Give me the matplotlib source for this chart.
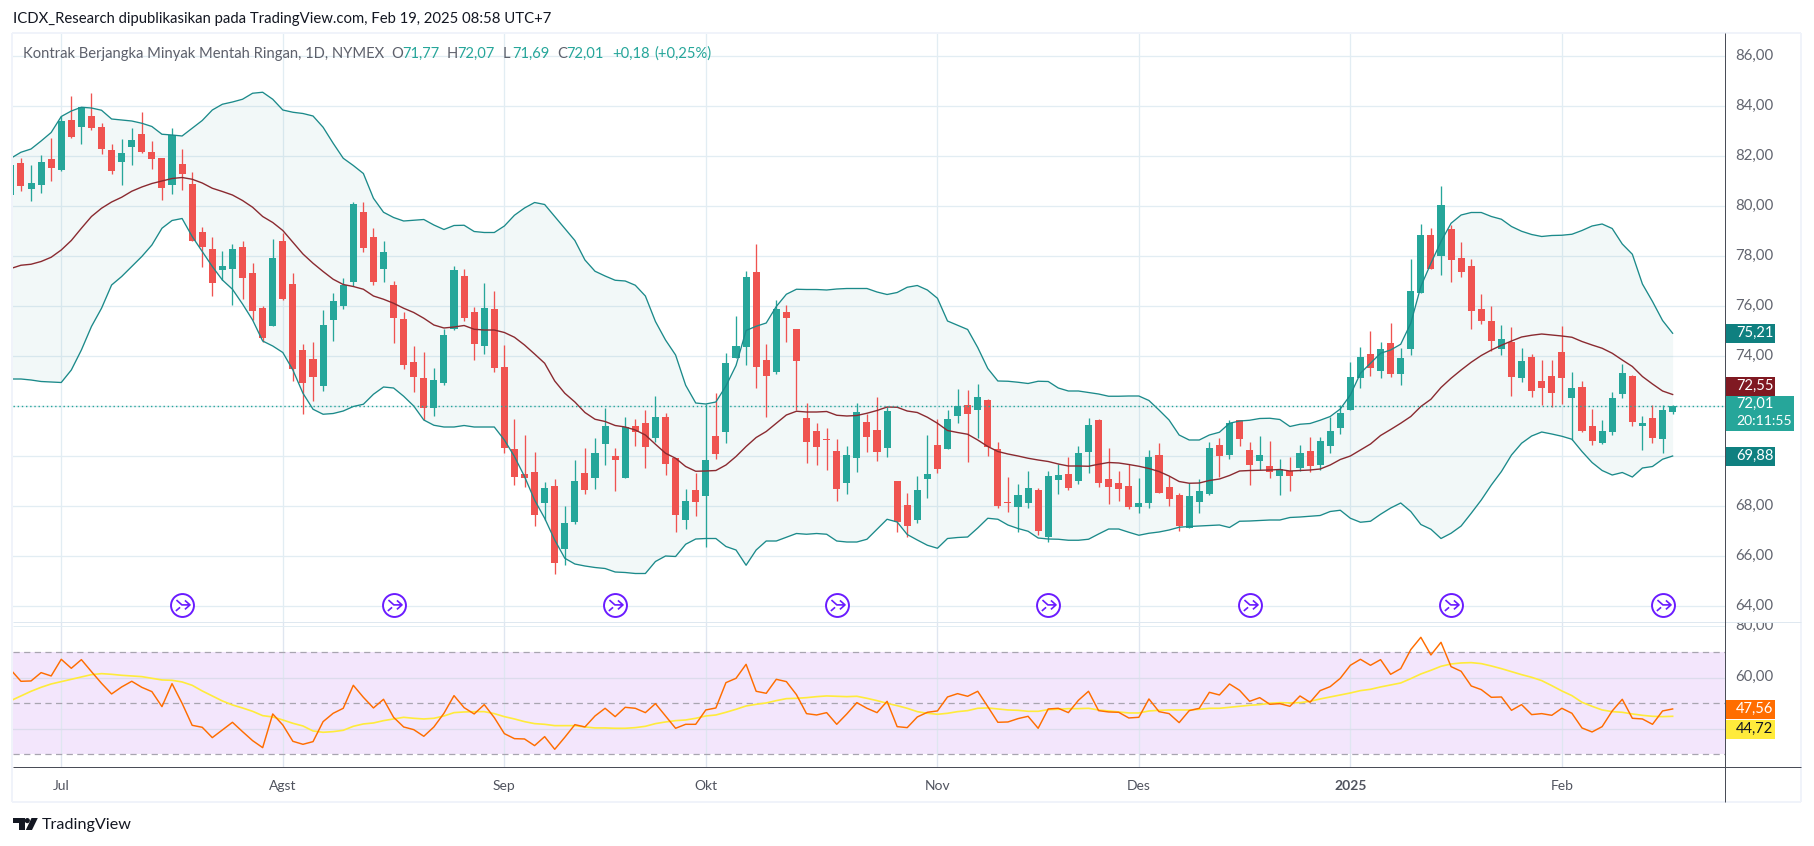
import matplotlib
matplotlib.use("Agg")
import matplotlib.pyplot as plt
from matplotlib.patches import Rectangle, Circle, Polygon
from matplotlib.path import Path
from matplotlib.ticker import FuncFormatter
from matplotlib.transforms import Bbox, ScaledTranslation

plt.rcParams['font.family'] = ['Lato', 'DejaVu Sans']

# daily candles
opens = [80.45,81.73,80.69,80.85,81.89,81.45,83.45,83.17,83.61,83.17,82.25,81.77,82.37,82.89,82.17,81.93,80.85,81.69,80.89,78.97,
         78.29,77.45,77.49,78.37,77.33,75.93,75.21,78.61,76.89,74.25,73.89,72.81,75.45,76.01,76.97,79.77,78.77,77.49,76.85,75.49,
         73.77,73.13,71.93,72.93,75.09,77.21,75.77,74.41,75.89,73.57,70.29,69.29,69.37,68.13,68.81,66.29,67.37,69.33,69.13,70.49,
         70.01,69.13,71.21,71.33,70.73,71.57,69.93,67.45,68.65,68.41,70.81,70.97,73.93,74.37,77.37,73.85,73.37,75.77,75.09,71.53,
         71.01,70.69,70.21,68.93,69.93,71.37,71.05,70.33,69.01,68.05,67.45,69.09,70.45,70.29,71.61,72.05,71.85,72.25,70.29,68.17,
         67.97,68.13,68.65,66.77,69.05,69.29,69.01,70.17,71.45,69.09,68.93,68.81,67.97,68.13,70.05,68.77,68.45,67.13,68.17,68.49,
         70.45,70.05,71.45,70.25,69.81,69.61,69.21,69.41,69.53,70.21,69.65,70.41,71.13,71.85,73.13,74.09,73.41,74.53,73.29,74.29,
         76.53,78.85,78.01,79.09,77.93,77.61,75.89,75.41,74.29,74.57,73.13,73.97,73.01,73.21,74.17,72.33,72.77,71.21,70.53,70.97,
         72.49,73.21,71.21,71.53,70.69,71.77]
highs = [81.65,81.92,81.65,82.05,82.73,83.63,84.41,83.96,84.53,83.33,82.49,82.69,83.13,83.77,82.61,81.93,83.13,82.29,81.37,79.17,
         78.77,78.21,78.49,78.61,77.73,76.01,78.69,78.92,77.33,74.49,74.57,75.85,76.53,77.13,80.17,80.17,79.13,78.61,77.01,75.77,
         74.41,74.17,73.53,75.09,77.61,77.49,75.97,76.93,76.61,74.45,71.49,70.85,70.17,68.97,69.09,68.01,69.85,70.33,70.73,71.93,
         70.33,71.57,71.49,71.85,72.41,71.73,69.93,68.69,69.33,72.09,72.53,74.13,75.61,77.41,78.49,74.49,76.25,76.05,75.09,72.13,
         71.33,71.13,70.69,70.41,72.13,71.69,72.37,71.97,69.01,68.53,69.21,70.85,71.49,71.85,72.69,72.65,72.89,72.29,70.57,69.17,
         68.89,69.41,68.73,69.41,69.69,69.97,70.41,71.53,71.49,70.33,69.41,69.69,69.13,70.25,70.53,69.21,68.53,68.92,69.09,70.57,
         70.73,71.45,71.45,70.57,70.81,70.61,69.89,69.97,70.45,70.77,70.77,71.57,72.05,73.77,74.37,75.01,74.57,75.33,74.33,77.89,
         79.29,79.13,80.81,79.25,78.57,77.89,76.49,76.01,75.25,75.17,74.33,74.09,73.85,73.85,75.21,73.37,73.01,71.89,71.45,72.57,
         73.69,73.25,71.61,72.05,72.05,72.07]
lows = [80.45,80.59,80.21,80.53,81.01,81.41,82.73,82.49,83.05,82.09,81.29,80.85,81.65,82.13,81.49,80.25,80.49,80.65,78.61,77.57,
        76.41,77.05,76.05,76.30,75.45,74.57,75.21,76.25,73.01,71.69,72.21,72.61,74.61,75.89,76.79,78.17,76.85,76.97,74.53,73.49,
        72.57,71.45,71.61,72.85,75.05,75.41,73.85,74.09,73.37,70.13,68.85,68.77,67.21,67.45,65.29,65.65,67.29,68.49,68.69,69.65,
        68.61,69.13,70.41,69.53,70.57,69.25,66.97,67.09,67.61,66.37,69.89,70.53,73.93,73.65,72.73,71.57,73.29,74.57,71.85,69.73,
        69.65,69.45,68.21,68.49,69.37,70.17,69.81,69.97,66.97,66.77,67.33,68.33,69.33,70.29,71.33,69.77,70.73,70.01,67.93,67.77,
        66.97,67.93,66.85,66.57,68.49,68.65,68.89,69.33,68.77,68.09,68.21,67.89,67.73,67.93,68.53,68.01,67.01,67.13,67.73,68.45,
        69.17,69.89,70.41,68.85,69.45,69.13,68.45,68.61,69.41,69.37,69.45,70.13,70.89,71.85,72.73,73.21,73.13,73.17,72.85,74.05,
        76.53,77.49,77.25,76.97,77.17,75.09,75.29,74.21,74.05,72.41,72.97,72.37,72.05,71.97,72.09,70.65,70.97,70.45,70.49,70.85,
        72.33,71.21,70.25,70.53,70.13,71.69]
closes = [81.65,80.83,80.93,81.77,81.53,83.41,82.77,83.96,83.13,82.29,81.41,82.13,82.65,82.17,81.89,80.73,82.85,81.29,78.61,78.37,
          76.93,77.61,78.29,77.13,75.81,74.73,77.93,76.29,73.49,72.93,73.17,75.25,76.21,76.85,80.09,78.33,76.97,78.17,75.55,73.65,
          73.17,71.93,73.05,74.85,77.45,75.53,74.49,75.93,73.53,70.33,69.17,69.13,67.65,68.73,65.73,67.33,69.01,68.65,70.13,71.21,
          69.85,71.17,70.97,70.37,71.57,69.69,67.65,68.21,68.17,69.85,70.09,73.73,74.41,77.17,73.57,73.21,75.89,75.53,73.81,70.57,
          70.37,70.65,68.69,70.05,71.77,70.77,70.17,71.81,67.37,67.21,68.65,69.29,69.49,71.49,72.01,71.69,72.37,70.37,68.01,68.13,
          68.45,68.73,67.01,69.21,69.25,68.73,70.13,71.25,68.93,68.77,68.69,67.97,68.13,69.97,68.53,68.29,67.21,68.41,68.61,70.33,
          70.01,71.33,70.69,69.65,70.05,69.37,69.49,69.21,70.13,69.61,70.61,71.01,71.73,73.17,73.97,73.53,74.29,73.29,73.93,76.61,
          78.85,77.49,80.05,77.85,77.37,75.81,75.41,74.61,74.69,73.17,73.81,72.61,72.73,72.53,73.13,72.73,71.01,70.61,71.01,72.33,
          73.33,71.37,71.33,70.73,71.85,72.01]

# bollinger bands
bb_upper = [81.92,82.16,82.29,82.61,82.95,83.59,83.81,83.96,83.93,83.84,83.49,83.45,83.41,83.32,83.19,82.88,82.85,82.81,83.12,83.43,
            83.85,84.08,84.17,84.28,84.52,84.56,84.28,83.85,83.76,83.71,83.61,83.16,82.52,81.92,81.63,81.31,80.32,79.76,79.55,79.41,
            79.44,79.47,79.25,79.07,79.23,79.24,78.99,78.95,78.95,79.21,79.64,79.93,80.15,80.07,79.59,79.11,78.63,77.85,77.40,77.21,
            77.04,77.01,76.84,76.41,75.39,74.65,74.05,72.84,72.13,72.09,72.17,72.81,73.63,75.03,75.20,75.33,75.99,76.48,76.68,76.67,
            76.67,76.65,76.69,76.71,76.71,76.71,76.57,76.47,76.55,76.76,76.83,76.65,76.32,75.41,75.24,75.07,74.35,73.51,73.01,73.00,
            72.96,72.91,73.00,72.99,72.73,72.61,72.61,72.55,72.49,72.40,72.40,72.41,72.41,72.23,71.85,71.45,70.85,70.65,70.65,70.85,
            70.96,71.32,71.41,71.44,71.51,71.52,71.47,71.19,71.28,71.31,71.44,71.59,71.89,72.45,73.32,73.72,74.12,74.25,74.48,75.32,
            76.79,77.72,78.59,79.32,79.65,79.75,79.75,79.59,79.48,79.19,79.00,78.87,78.79,78.83,78.84,78.88,79.03,79.21,79.29,79.11,
            78.49,78.08,76.89,76.19,75.43,74.92]
bb_basis = [77.51,77.64,77.68,77.79,77.96,78.25,78.63,79.12,79.59,79.92,80.17,80.36,80.60,80.77,80.91,81.01,81.11,81.15,81.08,80.93,
            80.72,80.59,80.45,80.23,79.96,79.59,79.35,79.03,78.56,78.09,77.72,77.39,77.08,76.87,76.79,76.68,76.41,76.28,76.12,75.92,
            75.75,75.52,75.25,75.13,75.17,75.23,75.08,75.05,75.05,74.95,74.76,74.45,74.09,73.72,73.01,72.52,72.17,71.75,71.48,71.39,
            71.23,71.17,71.05,70.85,70.48,70.12,69.92,69.59,69.40,69.41,69.43,69.65,69.99,70.39,70.75,70.99,71.32,71.65,71.80,71.77,
            71.77,71.79,71.64,71.61,71.63,71.72,71.83,71.97,71.96,71.81,71.75,71.56,71.32,71.03,70.95,70.88,70.65,70.39,70.19,70.09,
            70.01,69.92,69.85,69.79,69.69,69.61,69.61,69.60,69.68,69.75,69.73,69.67,69.60,69.51,69.39,69.21,68.99,68.92,68.93,69.03,
            69.09,69.23,69.41,69.43,69.44,69.45,69.47,69.41,69.43,69.45,69.49,69.65,69.87,70.01,70.25,70.49,70.83,71.07,71.32,71.59,
            71.99,72.28,72.75,73.12,73.45,73.76,74.03,74.25,74.44,74.61,74.77,74.84,74.89,74.85,74.81,74.76,74.59,74.45,74.32,74.12,
            73.85,73.59,73.19,72.89,72.61,72.47]
bb_lower = [73.09,73.09,73.05,72.99,72.97,72.95,73.45,74.25,75.19,75.92,76.85,77.19,77.59,77.99,78.45,79.12,79.43,79.51,78.79,78.19,
            77.59,77.05,76.68,76.09,75.45,74.61,74.41,74.15,73.45,72.52,71.88,71.68,71.71,71.81,71.99,72.08,72.48,72.77,72.73,72.40,
            72.01,71.45,71.24,71.17,71.17,71.23,71.17,71.17,71.17,70.65,69.99,69.19,68.25,67.52,66.65,65.92,65.69,65.61,65.55,65.51,
            65.37,65.35,65.31,65.31,65.79,66.01,65.99,66.48,66.69,66.71,66.71,66.39,66.25,65.64,66.25,66.61,66.61,66.76,66.91,66.88,
            66.91,66.88,66.61,66.57,66.57,66.68,67.08,67.48,67.37,66.87,66.65,66.44,66.32,66.71,66.75,66.77,67.13,67.52,67.48,67.25,
            67.11,67.00,66.73,66.69,66.68,66.64,66.64,66.68,66.89,67.09,67.09,66.96,66.84,66.92,66.97,67.05,67.16,67.19,67.21,67.23,
            67.25,67.15,67.40,67.41,67.43,67.45,67.45,67.55,67.57,67.60,67.63,67.79,67.84,67.52,67.36,67.40,67.68,67.93,68.13,67.79,
            67.27,67.08,66.71,66.92,67.21,67.72,68.25,68.85,69.39,70.05,70.52,70.81,70.97,70.89,70.80,70.68,70.19,69.75,69.43,69.25,
            69.35,69.17,69.53,69.59,69.88,70.01]

# rsi and its moving average
rsi = [63.07,58.63,58.76,62.03,60.72,67.25,63.73,67.12,62.42,57.84,53.66,56.41,58.63,56.27,54.58,48.69,57.71,50.00,41.37,40.59,
       36.54,39.54,42.55,38.89,35.36,32.61,45.82,41.50,35.10,33.92,34.97,42.81,46.08,48.04,57.06,52.35,48.17,51.57,44.51,40.72,
       39.67,37.06,40.72,46.08,53.01,48.30,45.82,49.48,44.38,38.10,36.14,36.01,33.40,36.93,31.96,36.67,41.63,40.72,45.03,48.04,
       44.77,48.43,48.04,46.34,49.87,45.03,40.20,41.76,41.76,47.39,48.17,58.10,59.80,65.29,54.71,53.92,59.41,58.50,53.40,45.95,
       45.42,46.34,41.76,45.82,50.26,48.04,46.34,50.78,40.85,40.46,44.64,46.47,47.00,52.48,53.79,52.75,54.71,48.69,42.55,42.68,
       43.99,44.90,40.20,47.78,48.04,46.34,51.18,54.71,47.12,46.60,46.47,44.25,44.51,51.70,46.73,45.95,42.42,47.12,48.04,54.31,
       53.27,57.58,55.10,50.78,52.22,49.61,49.87,48.82,52.88,50.39,54.97,56.54,59.80,64.90,67.25,64.90,67.12,61.37,63.59,71.05,
       75.88,68.95,73.92,64.38,62.55,56.80,55.36,52.35,52.48,47.25,49.48,45.56,45.95,45.29,48.04,46.08,40.33,38.76,40.85,47.00,
       51.57,44.12,43.86,41.76,47.00,47.78]
rsi_ma = [51.05,52.88,54.71,56.27,57.58,58.50,59.41,60.33,61.24,61.63,61.37,60.98,60.72,60.46,59.80,59.15,59.02,58.37,57.06,54.84,
          52.88,50.92,49.35,48.17,46.86,45.16,44.64,43.46,42.16,41.11,39.15,38.63,38.89,39.41,40.98,41.90,42.29,43.20,43.86,44.51,
          44.12,43.86,44.12,45.03,46.34,46.60,46.73,46.73,45.95,44.77,43.86,42.81,42.03,41.76,41.24,41.24,41.24,40.72,40.33,40.33,
          40.20,40.20,40.46,40.98,42.03,42.68,43.20,43.46,44.12,45.03,45.42,46.47,47.65,48.95,49.61,50.13,51.05,51.83,51.96,52.22,
          52.61,52.88,52.75,52.61,52.75,51.96,51.05,50.00,49.08,48.04,46.73,46.08,45.69,46.08,46.73,47.12,48.04,48.17,47.78,47.39,
          47.25,46.86,46.86,47.52,47.65,47.91,47.91,48.04,47.39,46.99,46.60,46.21,46.21,46.99,47.25,47.39,47.39,47.39,47.65,48.04,
          48.04,48.43,48.82,49.22,49.48,50.00,50.26,50.13,50.26,50.78,51.70,52.48,53.27,54.05,54.97,55.49,56.41,57.19,57.97,59.67,
          61.50,62.94,64.51,65.42,65.82,65.95,65.56,64.64,63.59,62.42,61.24,60.20,58.89,56.93,54.84,53.01,50.39,48.82,47.39,46.73,
          46.47,45.82,45.29,44.90,44.77,44.90]

price_ticks = [64, 66, 68, 70, 72, 74, 76, 78, 80, 82, 84, 86]
rsi_ticks = [60, 80]
rsi_grid = [40, 60]
rsi_dashed = [30, 50, 70]
month_idx = [5, 27, 49, 69, 92, 112, 133, 154]
month_labels = ["Jul", "Agst", "Sep", "Okt", "Nov", "Des", "2025", "Feb"]
event_idx = [17, 38, 60, 82, 103, 123, 143, 164]
last_close = 72.01

UP = "#26a69a"
DOWN = "#ef5350"
GRID = "#e2edf3"
TICK = "#62656f"
W, H = 1814, 846


def pane(left, top, right, bottom):
    return fig.add_axes([left / W, 1 - bottom / H, (right - left) / W, (bottom - top) / H])


def comma(v, pos=None):
    return f"{v:.2f}".replace(".", ",")


fig = plt.figure(figsize=(W / 100, H / 100), dpi=100, facecolor="white")
lift = ScaledTranslation(0, 2.3 / 100, fig.dpi_scale_trans)

# PRICE PANE
ax = pane(13, 33, 1725, 622)
idx = list(range(len(closes)))
xlim = (0.21, 170.2)
ax.set_xlim(*xlim)
ax.set_ylim(63.37, 86.93)
ax.fill_between(idx, bb_lower, bb_upper, color="#0f8080", alpha=0.05, linewidth=0, zorder=1)
colors = [UP if c >= o else DOWN for o, c in zip(opens, closes)]
ax.vlines(idx, lows, highs, colors=colors, linewidth=0.95, zorder=2)
ax.bar(idx, [abs(c - o) for o, c in zip(opens, closes)], bottom=[min(o, c) for o, c in zip(opens, closes)],
       width=0.7, color=colors, linewidth=0, zorder=3)
ax.plot(idx, bb_upper, color="#1b8a8a", linewidth=0.95, zorder=4)
ax.plot(idx, bb_lower, color="#1b8a8a", linewidth=0.95, zorder=4)
ax.plot(idx, bb_basis, color="#8a2a30", linewidth=1.0, zorder=4)
ax.axhline(last_close, color=UP, linewidth=1.0, linestyle=(0, (1, 2)), zorder=4)

# purple markers at the bottom of the pane
glyph = Path([(-0.5, 0.45), (-0.05, 0.05), (0.62, 0.05), (0.2, 0.42), (0.62, 0.05), (0.2, -0.32), (-0.55, -0.45), (-0.2, -0.15)],
             [Path.MOVETO, Path.LINETO, Path.LINETO, Path.MOVETO, Path.LINETO, Path.LINETO, Path.MOVETO, Path.LINETO])
ax.plot(event_idx, [64.04] * len(event_idx), linestyle="none", marker="o", markersize=16.5,
        markerfacecolor="white", markeredgecolor="#6a1bff", markeredgewidth=1.4, zorder=5)
ax.plot(event_idx, [64.04] * len(event_idx), linestyle="none", marker=glyph, markersize=10.8,
        markerfacecolor="none", markeredgecolor="#6a1bff", markeredgewidth=1.2, zorder=6)

ax.set_xticks(month_idx)
ax.set_xticklabels([])
ax.set_yticks(price_ticks)
ax.yaxis.tick_right()
ax.yaxis.set_major_formatter(FuncFormatter(comma))
ax.tick_params(axis="both", length=0)
ax.tick_params(axis="y", labelsize=10.8, labelcolor=TICK, pad=7.5)
ax.grid(color=GRID, linewidth=0.95)
ax.set_axisbelow(True)
for s in ax.spines.values():
    s.set_visible(False)

# RSI PANE
ax2 = pane(13, 622, 1725, 767)
ax2.set_xlim(*xlim)
ax2.set_ylim(25.02, 81.88)
ax2.axhspan(30, 70, facecolor="#f3e6fc", linewidth=0, zorder=0)
for v in rsi_grid:
    ax2.axhline(v, color="#dcdcec", linewidth=0.95, zorder=1)
for v in rsi_dashed:
    ax2.axhline(v, color="#a8a5b0", linewidth=0.9, linestyle=(0, (5, 3.5)), zorder=1)
ax2.plot(idx, rsi_ma, color="#ffeb3b", linewidth=1.2, zorder=3)
ax2.plot(idx, rsi, color="#ff6d00", linewidth=1.05, zorder=4)
ax2.set_xticks(month_idx)
ax2.set_xticklabels(month_labels)
ax2.get_xticklabels()[6].set_fontweight("bold")
ax2.set_yticks(rsi_ticks)
ax2.yaxis.tick_right()
ax2.yaxis.set_major_formatter(FuncFormatter(comma))
ax2.tick_params(axis="both", length=0)
ax2.tick_params(axis="x", labelsize=10, labelcolor="#50535e", pad=9)
ax2.tick_params(axis="y", labelsize=10.8, labelcolor=TICK, pad=7.5)
ax2.grid(axis="x", color="#dfe6f0", linewidth=0.95, zorder=1)
ax2.set_axisbelow(True)
for s in ax2.spines.values():
    s.set_visible(False)
fig.canvas.draw()
for tick in ax.yaxis.get_major_ticks():
    tick.label2.set_transform(tick.label2.get_transform() + lift)
for tick in ax2.yaxis.get_major_ticks():
    tick.label2.set_transform(tick.label2.get_transform() + lift)
    tick.label2.set_clip_box(Bbox([[1725, H - 767], [1801, H - 622.5]]))
    tick.label2.set_clip_on(True)

# FRAME, SCALE LABELS, HEADER (pixel overlay)
ov = fig.add_axes([0, 0, 1, 1], facecolor="none", zorder=10)
ov.set_xlim(0, W)
ov.set_ylim(H, 0)
ov.axis("off")

for (x0, y0, x1, y1, c, lw) in [
    (12, 33, 1801, 33, "#f0f3fa", 2), (12, 33, 12, 802, "#f0f3fa", 2),
    (12, 802, 1801, 802, "#f0f3fa", 2), (1801, 33, 1801, 802, "#f0f3fa", 2),
    (13, 622.5, 1801, 622.5, "#dfe8f0", 1), (13, 626.5, 1725, 626.5, "#e2edf3", 1),
    (13, 767, 1801, 767, "#4a4d57", 1), (1725, 33, 1725, 802, "#4a4d57", 1),
]:
    ov.plot([x0, x1], [y0, y1], color=c, linewidth=lw * 0.72, solid_capstyle="butt")


def scale_label(y0, y1, right, color, lines, tcolor="white"):
    ov.add_patch(Rectangle((1725.5, y0), right - 1725.5, y1 - y0, facecolor=color, edgecolor="none"))
    step = (y1 - y0) / len(lines)
    for i, s in enumerate(lines):
        ov.text(1736, y0 + step * (i + 0.5) - 1, s, color=tcolor, fontsize=10.6 if i == 0 else 10, va="center", ha="left")


scale_label(324, 343, 1775, "#0f8080", ["75,21"])
scale_label(377, 396, 1775, "#801922", ["72,55"])
scale_label(396, 431, 1794, UP, ["72,01", "20:11:55"])
scale_label(447, 466, 1775, "#0f8080", ["69,88"])
scale_label(700, 719, 1775, "#ff6d00", ["47,56"])
scale_label(720, 739, 1775, "#ffeb3b", ["44,72"], "#131722")

ov.text(13, 19, "ICDX_Research dipublikasikan pada TradingView.com, Feb 19, 2025 08:58 UTC+7",
        color="#131722", fontsize=10.75, va="center", ha="left")
ov.text(23, 54, "Kontrak Berjangka Minyak Mentah Ringan, 1D, NYMEX", color="#5d606b", fontsize=10.6, va="center", ha="left")
for x, s, c in [(391.5, "O", "#5d606b"), (402, "71,77", UP), (447, "H", "#5d606b"), (457, "72,07", UP),
                (503, "L", "#5d606b"), (512, "71,69", UP), (557, "C", "#5d606b"), (566, "72,01", UP),
                (612, "+0,18", UP), (654, "(+0,25%)", UP)]:
    ov.text(x, 54, s, color=c, fontsize=10.6, va="center", ha="left")

# TradingView logo
ov.add_patch(Polygon([(13.3, 818), (24.5, 818), (24.5, 830), (18.5, 830), (18.5, 823), (13.3, 823)], facecolor="#131722"))
ov.add_patch(Circle((27.3, 820.6), 2.6, facecolor="#131722"))
ov.add_patch(Polygon([(31.5, 818), (37.8, 818), (32, 830), (25.8, 830)], facecolor="#131722"))
ov.text(42, 825, "TradingView", color="#131722", fontsize=11.6, va="center", ha="left")

fig.savefig("out.png", dpi=100)
